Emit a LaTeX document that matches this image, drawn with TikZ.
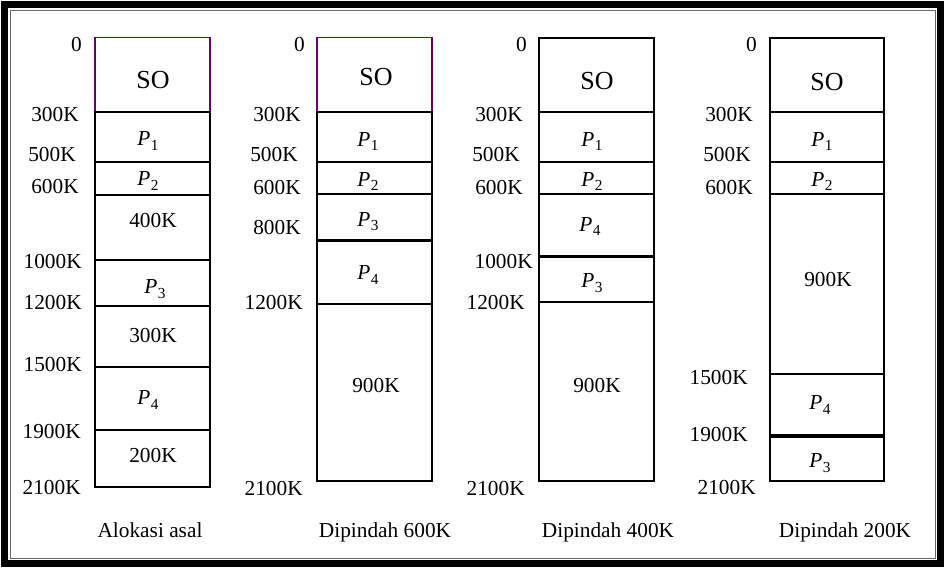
\documentclass[tikz,border=0pt]{standalone}
\usepackage{fontspec}
\setmainfont{Liberation Serif}
\usetikzlibrary{positioning}
\definecolor{sopurple}{RGB}{102,0,102}
\newcommand{\proc}[1]{\textit{P}\kern0.3pt\raisebox{-0.45ex}{\fontsize{11.5}{12}\selectfont #1}}
\tikzset{
mem/.style = { draw = black, line width = 1.5pt },
sep/.style = { draw = black, line width = 2.4pt },
osline/.style = { draw = sopurple, line width = 1.1pt },
addr/.style = { anchor = east, inner sep = 0pt, font = \fontsize{16}{18}\selectfont },
seg/.style = { inner sep = 0pt, font = \fontsize{16}{18}\selectfont },
os/.style = { inner sep = 0pt, font = \fontsize{19.5}{22}\selectfont },
caption/.style = { anchor = base, inner sep = 0pt, font = \fontsize{16}{18}\selectfont },
}

\begin{document}
\begin{tikzpicture}[x = 0.75pt, y = -0.75pt]
    \useasboundingbox (0, 0) rectangle (947, 571);
    % frame
    \path[draw = black, line width = 5.25pt] (4.5, 4.5) rectangle (940.5, 563.5);
    \path[draw = black!60, line width = 0.75pt] (10.5, 10.5) rectangle (935, 558);
    % Alokasi asal
    \path[osline] (95, 111.7) -- (95, 37.7) -- (210, 37.7) -- (210, 111.7);
    \path[mem] (95, 111.7) rectangle (210, 487);
    \path[mem] (95, 162) -- (210, 162);
    \path[mem] (95, 195) -- (210, 195);
    \path[mem] (95, 260) -- (210, 260);
    \path[mem] (95, 306) -- (210, 306);
    \path[mem] (95, 367) -- (210, 367);
    \path[mem] (95, 430) -- (210, 430);
    \node[addr] (a0) at (82, 45) {0};
    \node[addr] (a300) at (79, 115) {300K};
    \node[addr] (a500) at (76, 155) {500K};
    \node[addr] (a600) at (79, 187) {600K};
    \node[addr] (a1000) at (82, 262) {1000K};
    \node[addr] (a1200) at (82, 303) {1200K};
    \node[addr] (a1500) at (82, 365) {1500K};
    \node[addr] (a1900) at (81, 432) {1900K};
    \node[addr] (a2100) at (81, 488) {2100K};
    \node[os] (aso) at (153, 80) {SO};
    \node[seg] (ap1) at (148, 141) {\proc{1}};
    \node[seg] (ap2) at (148, 181) {\proc{2}};
    \node[seg] (ah400) at (153, 221) {400K};
    \node[seg] (ap3) at (155, 289) {\proc{3}};
    \node[seg] (ah300) at (153, 336) {300K};
    \node[seg] (ap4) at (148, 400) {\proc{4}};
    \node[seg] (ah200) at (153, 456) {200K};
    \node[caption] (acap) at (150, 537) {Alokasi asal};
    % Dipindah 600K
    \path[osline] (317, 111.7) -- (317, 37.7) -- (432, 37.7) -- (432, 111.7);
    \path[mem] (317, 111.7) rectangle (432, 481);
    \path[mem] (317, 161.7) -- (432, 161.7);
    \path[mem] (317, 194.3) -- (432, 194.3);
    \path[sep] (317, 240.7) -- (432, 240.7);
    \path[mem] (317, 304) -- (432, 304);
    \node[addr] (b0) at (305, 45) {0};
    \node[addr] (b300) at (301, 115) {300K};
    \node[addr] (b500) at (298, 155) {500K};
    \node[addr] (b600) at (301, 188) {600K};
    \node[addr] (b800) at (301, 228) {800K};
    \node[addr] (b1200) at (303, 303) {1200K};
    \node[addr] (b2100) at (303, 489) {2100K};
    \node[os] (bso) at (376, 77) {SO};
    \node[seg] (bp1) at (368, 141.7) {\proc{1}};
    \node[seg] (bp2) at (368, 181.7) {\proc{2}};
    \node[seg] (bp3) at (368, 221.7) {\proc{3}};
    \node[seg] (bp4) at (368, 275) {\proc{4}};
    \node[seg] (bh900) at (376, 386) {900K};
    \node[caption] (bcap) at (385, 537) {Dipindah 600K};
    % Dipindah 400K
    \path[mem] (539, 37.7) rectangle (654, 481);
    \path[mem] (539, 111.7) -- (654, 111.7);
    \path[mem] (539, 161.7) -- (654, 161.7);
    \path[mem] (539, 194.3) -- (654, 194.3);
    \path[sep] (539, 256.7) -- (654, 256.7);
    \path[mem] (539, 302) -- (654, 302);
    \node[addr] (c0) at (527, 45) {0};
    \node[addr] (c300) at (523, 115) {300K};
    \node[addr] (c500) at (520, 155) {500K};
    \node[addr] (c600) at (523, 188) {600K};
    \node[addr] (c1000) at (533, 262) {1000K};
    \node[addr] (c1200) at (525, 303) {1200K};
    \node[addr] (c2100) at (525, 489) {2100K};
    \node[os] (cso) at (597, 81) {SO};
    \node[seg] (cp1) at (592, 141.7) {\proc{1}};
    \node[seg] (cp2) at (592, 181.7) {\proc{2}};
    \node[seg] (cp4) at (590, 226.7) {\proc{4}};
    \node[seg] (cp3) at (592, 283) {\proc{3}};
    \node[seg] (ch900) at (597, 386) {900K};
    \node[caption] (ccap) at (608, 537) {Dipindah 400K};
    % Dipindah 200K
    \path[mem] (770, 37.7) rectangle (884.3, 481.3);
    \path[mem] (770, 111.7) -- (884.3, 111.7);
    \path[mem] (770, 161.7) -- (884.3, 161.7);
    \path[mem] (770, 194.3) -- (884.3, 194.3);
    \path[mem] (770, 374) -- (884.3, 374);
    \path[sep] (770, 436) -- (884.3, 436);
    \node[addr] (d0) at (757, 45) {0};
    \node[addr] (d300) at (753, 115) {300K};
    \node[addr] (d500) at (751, 155) {500K};
    \node[addr] (d600) at (753, 188) {600K};
    \node[addr] (d1500) at (748, 378) {1500K};
    \node[addr] (d1900) at (748, 435) {1900K};
    \node[addr] (d2100) at (756, 488) {2100K};
    \node[os] (dso) at (827, 81.7) {SO};
    \node[seg] (dp1) at (822, 141.7) {\proc{1}};
    \node[seg] (dp2) at (822, 181.7) {\proc{2}};
    \node[seg] (dh900) at (828, 280) {900K};
    \node[seg] (dp4) at (820, 405) {\proc{4}};
    \node[seg] (dp3) at (820, 463) {\proc{3}};
    \node[caption] (dcap) at (845, 537) {Dipindah 200K};
\end{tikzpicture}
\end{document}
